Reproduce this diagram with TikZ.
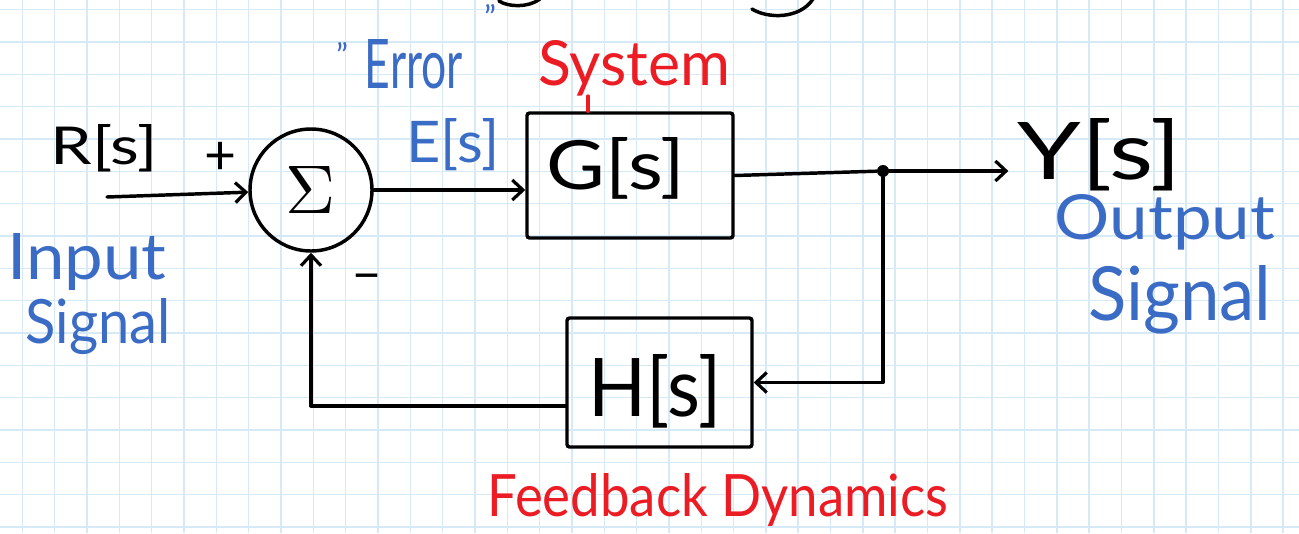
\documentclass[tikz,border=0pt]{standalone}
\usepackage{fontspec}
\setmainfont{Lato}
\usetikzlibrary{arrows.meta,calc}
\definecolor{gridblue}{HTML}{D5E9F7}
\definecolor{inkblue}{HTML}{3A6BC5}
\definecolor{inkred}{HTML}{EC1C24}
\newlength\pxu
\setlength\pxu{0.75pt}
\newcommand{\fitw}[2]{\resizebox{#1\pxu}{!}{#2}}
\newcommand{\fitwh}[3]{\resizebox{#1\pxu}{#2\pxu}{#3}}
\tikzset{
  wire/.style={line width=2.6pt, line cap=round, line join=round},
  arr/.style={wire, -{Straight Barb[length=8pt,width=15pt,line width=2.4pt]}},
  blockbox/.style={draw, line width=2.6pt, rounded corners=2pt, inner sep=0pt},
  sumc/.style={draw, circle, line width=2.6pt, inner sep=0pt, minimum size=91.5pt},
  dotn/.style={circle, fill, inner sep=0pt, minimum size=9pt},
  lbl/.style={inner sep=0pt},
  bluetxt/.style={lbl, text=inkblue},
  redtxt/.style={lbl, text=inkred}
}
\begin{document}
\begin{tikzpicture}[x=0.75pt, y=-0.75pt]
\useasboundingbox (0,0) rectangle (1299,533);
\fill[white] (0,0) rectangle (1299,533);
% graph paper
\foreach \i in {0,...,39} \draw[gridblue, line width=1.1pt] ({22.3+32.33*\i},0) -- ++(0,533);
\foreach \j in {0,...,16} \draw[gridblue, line width=1.1pt] (0,{9.7+32.33*\j}) -- ++(1299,0);
% cropped title fragments
\draw[wire] (499,1) .. controls (508,7) and (528,8) .. (540,-1);
\draw[wire] (752,9) .. controls (768,19) and (800,19) .. (813,-1);
% blocks
\node[sumc] (sum) at (311,190) {\fitwh{50}{47}{$\Sigma$}};
\node[blockbox, minimum width=154.5pt, minimum height=93.75pt,
      label={[lbl, xshift=-10.5pt, yshift=5pt]center:\fitwh{138}{52}{G[s]}}] (G) at (630,175.5) {};
\node[blockbox, minimum width=138.75pt, minimum height=96.75pt,
      label={[lbl, xshift=-3.4pt, yshift=-6.4pt]center:\fitwh{133}{62}{H[s]}}] (H) at (659.5,382.5) {};
\node[dotn] (dot) at (883,171) {};
% signal labels
\node[lbl] (R) at (104,148) {\fitwh{107}{40}{R[s]}};
\node[lbl] (Y) at (1100,155) {\fitwh{164}{61}{Y[s]}};
\node[bluetxt] (E) at (453,145) {\fitwh{93}{44}{E[s]}};
\node[lbl] (plus) at (221,158) {\fitw{32}{+}};
\node[lbl] (minus) at (367,283) {\fitw{29}{−}};
% annotations
\node[bluetxt] (lq) at (342,55) {\fitw{12}{"}};
\node[bluetxt] (err) at (414,64) {\fitwh{98}{49}{Error}};
\node[bluetxt] (rq) at (490,17) {\fitw{12}{"}};
\node[redtxt] (sys) at (634,68) {\fitwh{192}{45}{System}};
\node[redtxt] (fb) at (718,500) {\fitwh{461}{43}{Feedback Dynamics}};
\node[bluetxt] (in1) at (87,262) {\fitwh{159}{46}{Input}};
\node[bluetxt] (in2) at (98,327) {\fitwh{145}{45}{Signal}};
\node[bluetxt] (out1) at (1165,222) {\fitwh{220}{45}{Output}};
\node[bluetxt] (out2) at (1180,300) {\fitwh{183}{55}{Signal}};
% connectors
\coordinate (in) at (107,197);
\coordinate (gtop) at ($(G.north west)!0.3!(G.north east)$);
\draw[inkred, wire] (gtop |- sys.south) -- (gtop);
\draw[arr] (in) -- (sum);
\draw[arr] (sum.east) -- (sum.east -| G.west);
\draw[wire] (G.east) -- (dot);
\draw[arr, shorten >=7pt] (dot) -- (dot -| Y.west);
\draw[arr] (dot) |- (H.east);
\draw[arr] ([yshift=-17.5pt]H.west) -| (sum.south);
\end{tikzpicture}
\end{document}
